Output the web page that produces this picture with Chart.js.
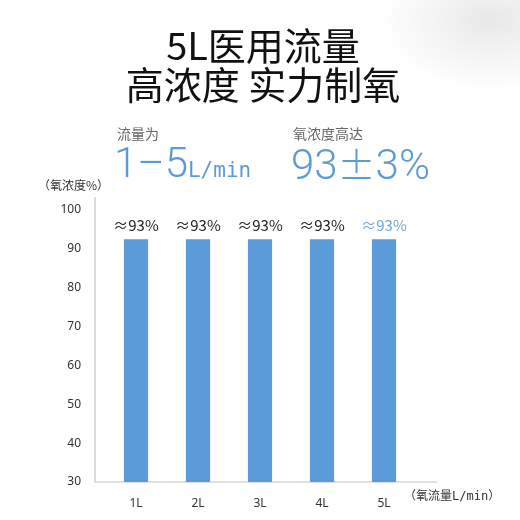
<!DOCTYPE html>
<html>
<head>
<meta charset="utf-8">
<script src="https://cdn.jsdelivr.net/npm/chart.js@4"></script>
<style>
  html, body { margin: 0; padding: 0; }
  body {
    width: 520px; height: 520px; position: relative; overflow: hidden;
    background: radial-gradient(ellipse 110px 70px at 490px 20px, #e8e8e8 0%, #ffffff 100%);
    font-family: "Noto Sans CJK SC", "Noto Sans", sans-serif;
  }
  canvas { position: absolute; left: 0; top: 0; }
  .t { position: absolute; white-space: nowrap; }
  .head { left: 0; width: 526px; text-align: center; font-size: 38px; line-height: 40px; color: #111; font-weight: 400; }
  .sub { font-size: 14px; line-height: 16px; color: #666; }
  .big { font-family: Roboto, "Noto Sans", sans-serif; font-weight: 300; font-size: 42px; line-height: 44px; color: #5a9ad8; }
  .mono { font-family: "DejaVu Sans Mono", monospace; }
  .cjk { font-family: "Noto Sans CJK SC", sans-serif; font-weight: 300; }
  .axt { font-size: 12px; line-height: 14px; color: #333; }
</style>
</head>
<body>
<canvas id="grafico" width="520" height="520"></canvas>
<div class="t head" style="top:24px">5L医用流量</div>
<div class="t head" style="top:63px">高浓度 实力制氧</div>
<div class="t sub" style="left:117px; top:125px">流量为</div>
<div class="t sub" style="left:293px; top:125px">氧浓度高达</div>
<div class="t big" style="left:114px; top:141px">1–5<span class="mono" style="font-size:21px; font-weight:400">L/min</span></div>
<div class="t big" style="left:291px; top:141px">93<span class="cjk" style="font-size:38px">±</span>3%</div>
<div class="t axt" style="left:38px; top:178px">（氧浓度%）</div>
<div class="t axt" style="left:404px; top:488px">（氧流量<span class="mono">L/min</span>）</div>
<script>
const categorias = ["1L", "2L", "3L", "4L", "5L"];
const concentracao = [92.5, 92.5, 92.5, 92.5, 92.5];
const rotulos = ["≈93%", "≈93%", "≈93%", "≈93%", "≈93%"];
const corRotulos = ["#222", "#222", "#222", "#222", "#6fa6dc"];
const ticksY = [30, 40, 50, 60, 70, 80, 90, 100];

// linhas dos eixos (o eixo x passa um pouco do último grupo)
const eixos = {
  id: "eixos",
  beforeDatasetsDraw(chart) {
    const { ctx, chartArea } = chart;
    ctx.save();
    ctx.strokeStyle = "#c4c4c4";
    ctx.lineWidth = 1.2;
    ctx.beginPath();
    ctx.moveTo(chartArea.left - 10, chartArea.top - 13);
    ctx.lineTo(chartArea.left - 10, chartArea.bottom);
    ctx.lineTo(chartArea.right + 22, chartArea.bottom);
    ctx.stroke();
    ctx.restore();
  }
};

// rótulos ≈93% em cima das barras
const valores = {
  id: "valores",
  afterDatasetsDraw(chart) {
    const { ctx } = chart;
    ctx.save();
    ctx.font = "15px 'Noto Sans CJK SC', sans-serif";
    ctx.textAlign = "center";
    ctx.textBaseline = "middle";
    chart.getDatasetMeta(0).data.forEach((bar, i) => {
      ctx.fillStyle = corRotulos[i];
      ctx.fillText(rotulos[i], bar.x, bar.y - 14);
    });
    ctx.restore();
  }
};

new Chart(document.getElementById("grafico"), {
  type: "bar",
  data: {
    labels: categorias,
    datasets: [{
      data: concentracao,
      backgroundColor: "#5b9bd9",
      barPercentage: 0.39,
      categoryPercentage: 1
    }]
  },
  options: {
    responsive: false,
    animation: false,
    layout: { padding: { top: 210, right: 105, left: 0, bottom: 0 } },
    plugins: { legend: { display: false }, tooltip: { enabled: false } },
    scales: {
      x: {
        grid: { display: false },
        border: { display: false },
        ticks: { color: "#333", font: { size: 12, family: "'Noto Sans', sans-serif" }, padding: 6 },
        afterFit(s) { s.height = 38; }
      },
      y: {
        min: 30,
        max: 100,
        grid: { display: false },
        border: { display: false },
        afterBuildTicks(s) { s.ticks = ticksY.map(v => ({ value: v })); },
        ticks: { color: "#333", font: { size: 12, family: "'Noto Sans', sans-serif" }, padding: 16 },
        afterFit(s) { s.width = 105; }
      }
    }
  },
  plugins: [eixos, valores]
});
</script>
</body>
</html>
